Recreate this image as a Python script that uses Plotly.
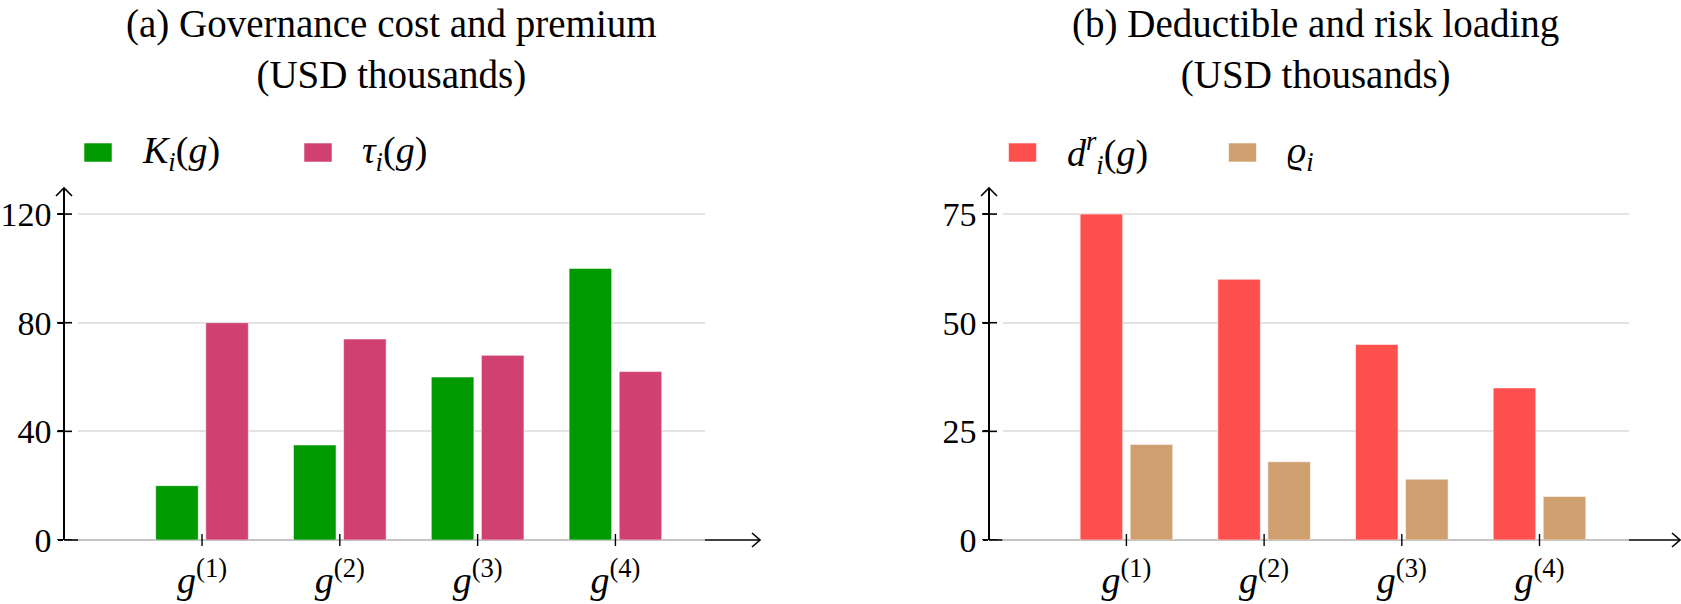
import plotly.graph_objects as go

# ---------------- data ----------------
groups = ["g1", "g2", "g3", "g4"]
group_labels = ["<i>g</i><sup>(1)</sup>", "<i>g</i><sup>(2)</sup>",
                "<i>g</i><sup>(3)</sup>", "<i>g</i><sup>(4)</sup>"]
governance_cost = [20, 35, 60, 100]      # K_i(g)
premium = [80, 74, 68, 62]               # tau_i(g)
deductible = [75, 60, 45, 35]            # d_i^r(g)
risk_loading = [22, 18, 14, 10]          # rho_i
left_ticks = [0, 40, 80, 120]
right_ticks = [0, 25, 50, 75]
title_a = "(a) Governance cost and premium<br>(USD thousands)"
title_b = "(b) Deductible and risk loading<br>(USD thousands)"
legend_a = ["<i>K</i><sub><i>i</i></sub>(<i>g</i>)", "<i>τ</i><sub><i>i</i></sub>(<i>g</i>)"]
legend_b = ["<i>d</i><sup><i>r</i></sup><sub><i>i</i></sub>(<i>g</i>)", "<i>ϱ</i><sub><i>i</i></sub>"]

# ---------------- style ----------------
W, H = 1681, 604
FONT = "Liberation Serif"
C_GREEN, C_PINK, C_RED, C_TAN = "#009900", "#D04070", "#FF5050", "#CF9F70"
GRID = "#e3e3e3"
ZERO = "#c4c4c4"

def px(x):
    return x / W

def py(y):
    return (H - y) / H

plot_top, plot_bot = 188, 540
panels = [
    dict(x0=78, x1=705, axis_x=64, arrow_x=760, ymax=129.6),
    dict(x0=1002.5, x1=1629, axis_x=989, arrow_x=1680, ymax=81.0),
]

fig = go.Figure()
outline = dict(color="rgba(255,255,255,0.55)", width=1)
fig.add_trace(go.Bar(x=groups, y=governance_cost, marker=dict(color=C_GREEN, line=outline),
                     xaxis="x", yaxis="y", showlegend=False))
fig.add_trace(go.Bar(x=groups, y=premium, marker=dict(color=C_PINK, line=outline),
                     xaxis="x", yaxis="y", showlegend=False))
fig.add_trace(go.Bar(x=groups, y=deductible, marker=dict(color=C_RED, line=outline),
                     xaxis="x2", yaxis="y2", showlegend=False))
fig.add_trace(go.Bar(x=groups, y=risk_loading, marker=dict(color=C_TAN, line=outline),
                     xaxis="x2", yaxis="y2", showlegend=False))

tickfont = dict(family=FONT, size=34, color="black")
xtickfont = dict(family=FONT, size=38, color="black")

def xaxis_cfg(p, yname):
    return dict(domain=[px(p["x0"]), px(p["x1"])], anchor=yname, type="category",
                range=[-0.9, 3.65], tickmode="array", tickvals=groups, ticktext=group_labels,
                showgrid=False, zeroline=False, showline=False, ticks="",
                ticklabelstandoff=14, automargin=False,
                tickfont=xtickfont, fixedrange=True)

def yaxis_cfg(p, ticks):
    return dict(domain=[py(plot_bot), py(plot_top)], anchor="free", position=px(p["axis_x"]),
                range=[0, p["ymax"]], tickmode="array", tickvals=ticks,
                showgrid=True, gridcolor=GRID, gridwidth=2,
                zeroline=True, zerolinecolor=ZERO, zerolinewidth=2,
                showline=True, linecolor="black", linewidth=1.6,
                ticks="outside", ticklen=5, tickwidth=1.6, tickcolor="black",
                automargin=False, tickfont=tickfont, fixedrange=True)

fig.update_layout(
    width=W, height=H, margin=dict(l=0, r=0, t=0, b=0, autoexpand=False),
    paper_bgcolor="white", plot_bgcolor="rgba(0,0,0,0)",
    barmode="group", bargap=0.273, bargroupgap=0.15,
    xaxis=xaxis_cfg(panels[0], "y"), yaxis=yaxis_cfg(panels[0], left_ticks),
    xaxis2=xaxis_cfg(panels[1], "y2"), yaxis2=yaxis_cfg(panels[1], right_ticks),
    font=dict(family=FONT, color="black"),
)

shapes = []
annotations = []
line_k = dict(color="black", width=1.6)
for i, p in enumerate(panels):
    yref = "y" if i == 0 else "y2"
    xref = "x" if i == 0 else "x2"
    ticks = left_ticks if i == 0 else right_ticks
    # crossing y ticks
    for t in ticks:
        shapes.append(dict(type="line", xref="paper", yref=yref,
                           x0=px(p["axis_x"] - 7), x1=px(p["axis_x"] + 8), y0=t, y1=t, line=line_k))
    # y arrow head
    ax = p["axis_x"]
    shapes.append(dict(type="path", xref="paper", yref="paper",
                       path=f"M {px(ax-8)},{py(plot_top+8)} L {px(ax)},{py(plot_top)} L {px(ax+8)},{py(plot_top+8)}",
                       line=line_k))
    # x axis black pieces + arrow
    shapes.append(dict(type="line", xref="paper", yref="paper",
                       x0=px(ax), x1=px(p["x0"]), y0=py(plot_bot), y1=py(plot_bot), line=line_k))
    shapes.append(dict(type="line", xref="paper", yref="paper",
                       x0=px(p["x1"]), x1=px(p["arrow_x"]), y0=py(plot_bot), y1=py(plot_bot), line=line_k))
    axr = p["arrow_x"]
    shapes.append(dict(type="path", xref="paper", yref="paper",
                       path=f"M {px(axr-8)},{py(plot_bot-7)} L {px(axr)},{py(plot_bot)} L {px(axr-8)},{py(plot_bot+7)}",
                       line=line_k))
    # x tick marks crossing the baseline
    for g in groups:
        shapes.append(dict(type="line", xref=xref, yref="paper", x0=g, x1=g,
                           y0=py(plot_bot - 6), y1=py(plot_bot + 6), line=dict(color="black", width=1.4)))
    # title
    annotations.append(dict(text=title_a if i == 0 else title_b, xref="paper", yref="paper",
                            x=px((p["x0"] + p["x1"]) / 2), y=py(50), xanchor="center", yanchor="middle",
                            showarrow=False, font=dict(family=FONT, size=39, color="black")))
    # legend
    cols = [C_GREEN, C_PINK] if i == 0 else [C_RED, C_TAN]
    labels = legend_a if i == 0 else legend_b
    for j, (c, lab) in enumerate(zip(cols, labels)):
        sx = p["x0"] + 6 + 220 * j
        shapes.append(dict(type="rect", xref="paper", yref="paper",
                           x0=px(sx), x1=px(sx + 28), y0=py(162), y1=py(143),
                           fillcolor=c, line=dict(color="rgba(255,255,255,0.55)", width=1)))
        annotations.append(dict(text=lab, xref="paper", yref="paper", x=px(sx + 56), y=py(153),
                                xanchor="left", yanchor="middle", showarrow=False,
                                font=dict(family=FONT, size=38, color="black")))

fig.update_layout(shapes=shapes, annotations=annotations)
fig.write_html("out.html")
